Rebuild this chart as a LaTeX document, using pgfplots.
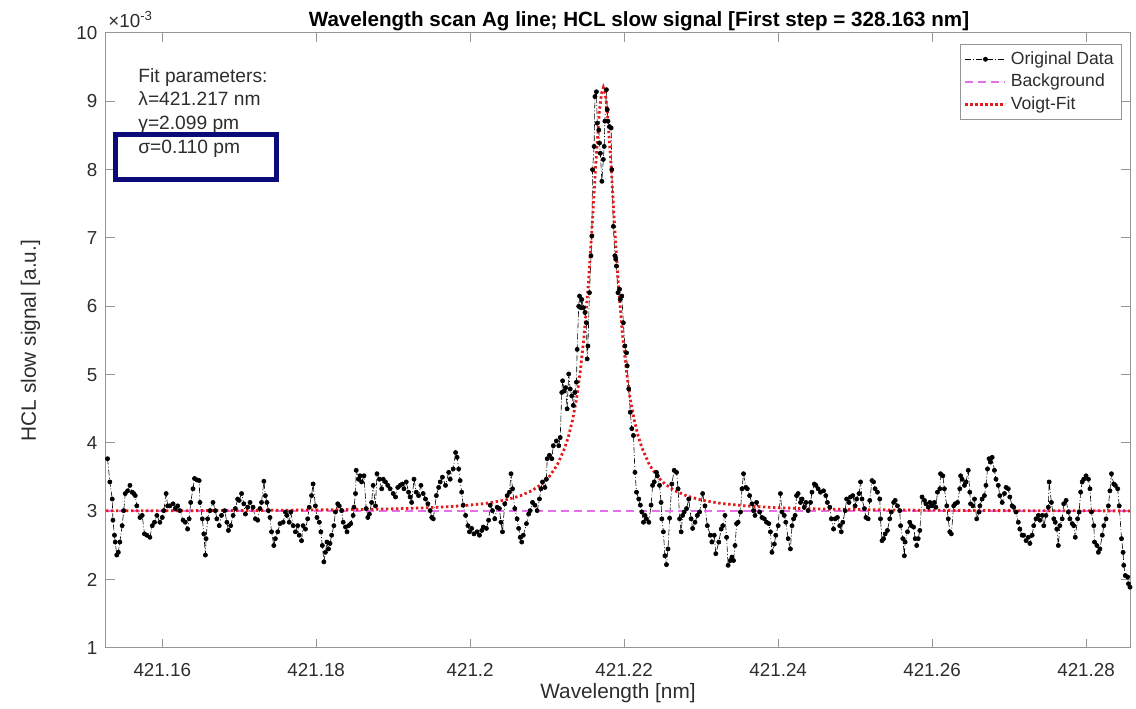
\documentclass[border=0pt]{standalone}
\usepackage{fontspec}
\setmainfont{Liberation Sans}
\usepackage{pgfplots}
\usepackage{pgfplotstable}
\pgfplotsset{compat=1.18}
\usetikzlibrary{calc}

\definecolor{axgray}{RGB}{150,150,150}
\definecolor{txtgray}{RGB}{45,45,45}
\definecolor{bgpink}{RGB}{230,110,235}
\definecolor{fitred}{RGB}{228,26,28}
\definecolor{boxnavy}{RGB}{10,10,120}

% Wavelengths are shifted by 421.15 nm with plain dimension arithmetic
% before pgfplots scales them, so the sub-picometre steps survive.
\newdimen\nmshiftdim
\makeatletter
\pgfplotsset{
  nm shift/.style={
    x coord trafo/.code={%
      \pgfmathfloatparsenumber{##1}%
      \pgfmathfloattofixed{\pgfmathresult}%
      \nmshiftdim=\pgfmathresult pt\relax
      \advance\nmshiftdim by -421.15pt\relax
      \edef\pgfmathresult{\pgf@sys@tonumber\nmshiftdim}%
    },
  },
}
\makeatother

% Measured HCL slow signal (units of 1e-3)
\pgfplotstableread{
x y
421.1529 3.77
421.1532 3.43
421.1535 3.18
421.1536 2.87
421.1538 2.65
421.1539 2.55
421.1541 2.36
421.1543 2.40
421.1545 2.55
421.1548 2.79
421.1550 3.01
421.1552 3.26
421.1555 3.30
421.1558 3.38
421.1561 3.28
421.1563 3.26
421.1565 3.23
421.1567 3.08
421.1571 2.91
421.1574 2.94
421.1577 2.67
421.1580 2.65
421.1584 2.62
421.1587 2.79
421.1590 2.84
421.1593 2.94
421.1597 2.84
421.1600 2.91
421.1602 3.01
421.1605 3.26
421.1607 3.08
421.1610 3.08
421.1614 3.11
421.1617 3.04
421.1620 3.08
421.1623 3.01
421.1627 2.87
421.1630 2.84
421.1633 2.74
421.1635 2.89
421.1637 3.13
421.1640 3.33
421.1642 3.48
421.1645 3.46
421.1648 3.45
421.1649 3.13
421.1652 2.89
421.1654 2.67
421.1656 2.36
421.1657 2.60
421.1659 2.89
421.1662 3.01
421.1666 3.13
421.1669 3.01
421.1671 2.89
421.1674 2.79
421.1677 2.94
421.1681 3.01
421.1684 2.84
421.1686 2.72
421.1689 2.79
421.1692 2.94
421.1695 3.04
421.1698 3.18
421.1700 3.16
421.1703 3.26
421.1706 3.11
421.1708 2.96
421.1711 3.06
421.1714 3.13
421.1718 3.06
421.1721 2.89
421.1724 2.87
421.1727 3.04
421.1729 3.13
421.1732 3.44
421.1734 3.23
421.1736 3.13
421.1738 3.01
421.1740 2.91
421.1742 2.70
421.1745 2.50
421.1747 2.60
421.1750 2.70
421.1753 2.82
421.1757 2.84
421.1760 2.99
421.1762 2.94
421.1765 2.84
421.1767 2.99
421.1770 2.79
421.1773 2.70
421.1776 2.79
421.1778 2.65
421.1781 2.57
421.1783 2.79
421.1786 2.74
421.1789 2.89
421.1791 3.06
421.1794 3.23
421.1796 3.40
421.1799 3.08
421.1801 2.91
421.1804 2.84
421.1806 2.70
421.1808 2.50
421.1810 2.26
421.1812 2.40
421.1814 2.55
421.1816 2.45
421.1818 2.53
421.1820 2.65
421.1823 2.79
421.1825 2.99
421.1828 3.11
421.1830 3.08
421.1833 3.01
421.1835 2.84
421.1838 2.77
421.1840 2.70
421.1842 2.79
421.1845 2.82
421.1848 2.94
421.1849 3.06
421.1851 3.26
421.1852 3.60
421.1855 3.47
421.1857 3.52
421.1859 3.43
421.1862 3.52
421.1865 3.04
421.1867 2.91
421.1869 2.96
421.1872 3.13
421.1874 3.38
421.1877 3.08
421.1879 3.55
421.1882 3.47
421.1885 3.33
421.1887 3.47
421.1890 3.43
421.1893 3.38
421.1896 3.33
421.1900 3.26
421.1903 3.21
421.1906 3.35
421.1909 3.38
421.1912 3.40
421.1914 3.33
421.1917 3.43
421.1920 3.28
421.1922 3.21
421.1924 3.13
421.1927 3.47
421.1930 3.28
421.1933 3.23
421.1936 3.38
421.1939 3.26
421.1942 3.18
421.1945 3.11
421.1948 3.01
421.1950 2.91
421.1952 2.89
421.1956 3.23
421.1959 3.35
421.1961 3.43
421.1964 3.50
421.1968 3.38
421.1972 3.57
421.1974 3.47
421.1978 3.62
421.1981 3.86
421.1983 3.79
421.1985 3.62
421.1987 3.45
421.1989 3.28
421.1991 3.09
421.1994 2.94
421.1997 2.79
421.1999 2.70
421.2002 2.75
421.2005 2.67
421.2009 2.70
421.2012 2.65
421.2015 2.72
421.2017 2.77
421.2021 2.75
421.2024 2.87
421.2026 3.09
421.2029 3.01
421.2032 2.89
421.2035 3.06
421.2038 3.04
421.2040 2.84
421.2042 2.70
421.2045 3.11
421.2048 3.23
421.2051 3.28
421.2053 3.55
421.2055 3.33
421.2058 3.04
421.2061 2.89
421.2063 2.75
421.2065 2.62
421.2067 2.55
421.2069 2.65
421.2073 2.82
421.2076 2.96
421.2078 3.01
421.2081 3.13
421.2084 3.09
421.2087 3.01
421.2090 3.18
421.2092 3.33
421.2094 3.43
421.2097 3.35
421.2099 3.47
421.2100 3.77
421.2103 3.82
421.2106 3.77
421.2108 3.96
421.2112 4.03
421.2115 3.96
421.2117 4.08
421.2119 4.74
421.2120 4.91
421.2122 4.76
421.2124 4.81
421.2126 4.50
421.2128 5.01
421.2130 4.79
421.2132 4.69
421.2134 4.55
421.2136 4.74
421.2138 4.89
421.2139 5.37
421.2141 6.00
421.2142 6.15
421.2144 5.98
421.2145 6.10
421.2147 5.98
421.2149 5.91
421.2151 5.76
421.2152 5.23
421.2153 5.42
421.2155 6.20
421.2157 6.74
421.2158 7.03
421.2159 8.00
421.2161 8.34
421.2162 9.07
421.2164 9.14
421.2165 8.68
421.2167 8.58
421.2168 8.39
421.2169 8.24
421.2171 7.83
421.2173 8.15
421.2174 8.34
421.2175 8.71
421.2177 9.17
421.2178 8.88
421.2179 8.71
421.2181 8.63
421.2183 8.61
421.2184 8.00
421.2186 7.17
421.2188 6.74
421.2189 6.69
421.2190 6.59
421.2192 6.20
421.2194 6.25
421.2195 6.10
421.2197 6.15
421.2199 5.76
421.2201 5.42
421.2203 5.32
421.2204 5.13
421.2206 4.79
421.2208 4.45
421.2210 4.21
421.2212 4.11
421.2214 3.57
421.2216 3.28
421.2219 3.18
421.2221 3.09
421.2223 2.99
421.2225 2.84
421.2227 2.94
421.2229 2.89
421.2232 2.84
421.2235 3.09
421.2237 3.38
421.2239 3.43
421.2242 3.57
421.2243 3.52
421.2246 3.38
421.2248 3.13
421.2249 2.89
421.2251 2.70
421.2253 2.35
421.2255 2.22
421.2257 2.45
421.2259 2.90
421.2262 3.40
421.2265 3.60
421.2268 3.57
421.2270 3.33
421.2272 2.89
421.2274 2.70
421.2276 2.94
421.2278 2.99
421.2281 3.04
421.2284 3.18
421.2287 2.89
421.2289 2.75
421.2292 2.84
421.2295 2.94
421.2298 2.99
421.2302 3.26
421.2305 3.08
421.2308 2.79
421.2312 2.65
421.2314 2.55
421.2317 2.65
421.2319 2.38
421.2323 2.55
421.2326 2.74
421.2328 2.79
421.2331 2.94
421.2333 2.62
421.2335 2.21
421.2338 2.28
421.2340 2.33
421.2342 2.28
421.2344 2.50
421.2346 2.82
421.2348 2.84
421.2351 2.99
421.2353 3.33
421.2355 3.55
421.2358 3.35
421.2360 3.33
421.2363 3.23
421.2366 3.11
421.2368 3.01
421.2370 2.94
421.2372 3.13
421.2376 2.99
421.2379 2.91
421.2382 2.89
421.2385 2.84
421.2388 2.82
421.2390 2.70
421.2392 2.40
421.2395 2.52
421.2397 2.65
421.2400 2.79
421.2403 3.26
421.2405 2.99
421.2408 2.94
421.2410 2.84
421.2413 2.60
421.2416 2.45
421.2418 2.79
421.2420 2.89
421.2422 2.94
421.2424 3.23
421.2426 3.26
421.2429 3.13
421.2431 3.18
421.2434 3.06
421.2436 3.13
421.2439 3.01
421.2442 3.13
421.2444 3.28
421.2447 3.40
421.2449 3.38
421.2452 3.33
421.2455 3.28
421.2459 3.30
421.2462 3.23
421.2464 3.13
421.2467 3.06
421.2469 2.89
421.2472 2.74
421.2474 2.89
421.2477 2.91
421.2480 2.79
421.2482 2.70
421.2484 2.84
421.2487 3.01
421.2489 3.18
421.2492 3.13
421.2494 3.21
421.2497 3.23
421.2500 3.08
421.2502 3.18
421.2505 3.26
421.2507 3.43
421.2509 3.18
421.2512 3.04
421.2514 2.91
421.2517 2.89
421.2519 3.16
421.2522 3.45
421.2524 3.43
421.2526 3.33
421.2529 3.28
421.2532 3.18
421.2533 2.89
421.2535 2.57
421.2537 2.60
421.2539 2.67
421.2542 2.72
421.2545 2.89
421.2547 2.99
421.2550 3.13
421.2552 3.16
421.2555 3.08
421.2558 3.01
421.2559 2.79
421.2562 2.60
421.2564 2.35
421.2565 2.55
421.2568 2.70
421.2571 2.84
421.2573 2.79
421.2576 2.77
421.2578 2.60
421.2580 2.50
421.2582 2.60
421.2584 2.72
421.2587 3.21
421.2590 3.16
421.2592 3.11
421.2595 3.06
421.2597 3.13
421.2600 3.08
421.2603 3.13
421.2605 3.06
421.2607 3.28
421.2610 3.33
421.2611 3.55
421.2614 3.52
421.2616 3.33
421.2619 3.08
421.2621 2.89
421.2623 2.70
421.2625 2.67
421.2628 3.08
421.2630 3.11
421.2633 3.13
421.2636 3.33
421.2637 3.52
421.2639 3.47
421.2642 3.38
421.2644 3.43
421.2647 3.60
421.2649 3.28
421.2650 3.11
421.2653 3.08
421.2655 3.18
421.2658 2.89
421.2661 2.99
421.2662 3.08
421.2665 3.18
421.2668 3.23
421.2670 3.38
421.2672 3.62
421.2674 3.77
421.2676 3.72
421.2678 3.79
421.2681 3.60
421.2683 3.47
421.2686 3.38
421.2688 3.23
421.2691 3.13
421.2694 3.26
421.2696 3.35
421.2699 3.33
421.2701 3.21
421.2704 3.08
421.2706 3.06
421.2709 2.99
421.2712 2.84
421.2714 2.74
421.2717 2.65
421.2719 2.65
421.2722 2.57
421.2725 2.62
421.2727 2.53
421.2730 2.65
421.2732 2.79
421.2735 2.89
421.2738 2.94
421.2740 2.87
421.2743 2.94
421.2745 2.79
421.2748 2.94
421.2751 3.06
421.2752 3.43
421.2755 3.13
421.2758 2.89
421.2760 2.84
421.2762 2.74
421.2764 2.50
421.2766 2.79
421.2769 2.89
421.2771 3.11
421.2774 3.16
421.2777 2.99
421.2779 2.89
421.2782 2.82
421.2784 2.79
421.2786 2.62
421.2789 2.89
421.2791 2.99
421.2793 3.28
421.2795 3.43
421.2797 3.47
421.2800 3.52
421.2803 3.47
421.2805 3.33
421.2807 2.99
421.2810 2.79
421.2811 2.55
421.2814 2.50
421.2816 2.40
421.2818 2.45
421.2821 2.65
421.2823 2.79
421.2826 2.89
421.2829 3.08
421.2831 3.30
421.2833 3.55
421.2836 3.40
421.2838 3.38
421.2841 3.33
421.2843 3.08
421.2846 2.60
421.2848 2.40
421.2849 2.21
421.2851 2.06
421.2854 2.04
421.2855 1.94
421.2857 1.89
}\dataorig

% Fitted background level
\pgfplotstableread{
x y
421.1527 3.0
421.2857 3.0
}\databg

% Voigt profile of the fit, tabulated
\pgfplotstableread{
x y
421.1527 3.007
421.1650 3.010
421.1750 3.015
421.1850 3.026
421.1900 3.036
421.1950 3.054
421.1990 3.081
421.2020 3.115
421.2045 3.163
421.2065 3.226
421.2080 3.301
421.2093 3.400
421.2103 3.512
421.2113 3.677
421.2123 3.930
421.2128 4.109
421.2133 4.340
421.2138 4.641
421.2143 5.039
421.2148 5.565
421.2153 6.251
421.2158 7.106
421.2163 8.054
421.2168 8.867
421.21705 9.113
421.2173 9.200
421.21755 9.113
421.2178 8.867
421.2183 8.054
421.2188 7.106
421.2193 6.251
421.2198 5.565
421.2203 5.039
421.2208 4.641
421.2213 4.340
421.2218 4.109
421.2223 3.930
421.2233 3.677
421.2243 3.512
421.2253 3.400
421.2266 3.301
421.2281 3.226
421.2301 3.163
421.2326 3.115
421.2356 3.081
421.2396 3.054
421.2446 3.036
421.2496 3.026
421.2596 3.015
421.2696 3.010
421.2857 3.006
}\datafit

\begin{document}
\begin{tikzpicture}
\begin{axis}[
  nm shift,
  scale only axis,
  width=512pt, height=307.5pt,
  xmin=421.1527, xmax=421.2857,
  ymin=1, ymax=10,
  xtick={421.16,421.18,421.2,421.22,421.24,421.26,421.28},
  xticklabels={421.16,421.18,421.2,421.22,421.24,421.26,421.28},
  ytick={1,2,3,4,5,6,7,8,9,10},
  /pgf/number format/assume math mode=true,
  tick align=inside,
  major tick length=4.5pt,
  axis line style={draw=axgray, line width=0.5pt},
  tick style={draw=axgray, line width=0.5pt},
  ticklabel style={font=\fontsize{9.4}{11}\selectfont, text=txtgray},
  xticklabel style={yshift=-4.2pt},
  yticklabel style={xshift=-0.8pt},
  legend cell align=left,
  legend image code/.code={%
    \draw[mark repeat=2,mark phase=2,#1]
      plot coordinates {(0pt,0pt) (10pt,0pt) (20pt,0pt)};},
  legend style={
    at={(rel axis cs:1,1)}, anchor=north east,
    xshift=-4pt, yshift=-5.5pt,
    draw=axgray, line width=0.4pt, fill=white,
    font=\fontsize{8.8}{10}\selectfont, text=txtgray,
    row sep=-0.6pt, inner xsep=2pt, inner ysep=1.5pt,
  },
]
  \coordinate (sw) at (rel axis cs:0,0);
  \coordinate (ne) at (rel axis cs:1,1);

  \addplot[black, line width=0.3pt,
           dash pattern=on 3pt off 1pt on 0.5pt off 1pt,
           mark=*, mark size=1.05pt,
           mark options={solid, fill=black, draw=black}]
    table[x=x, y=y] {\dataorig};
  \addlegendentry{Original Data}

  \addplot[draw=bgpink, line width=0.9pt, dash pattern=on 4pt off 2.5pt]
    table[x=x, y=y] {\databg};
  \addlegendentry{Background}

  \addplot[draw=fitred, line width=1.4pt, dash pattern=on 1.2pt off 1.3pt]
    table[x=x, y=y] {\datafit};
  \addlegendentry{Voigt-Fit}

  % fit summary
  \begin{scope}[every node/.style={font=\fontsize{9.6}{11}\selectfont,
                 text=txtgray, anchor=base west, inner sep=0pt}]
    \node at (rel axis cs:0.03125,0.9203) {Fit parameters:};
    \node at (rel axis cs:0.03125,0.8813) {λ=421.217 nm};
    \node at (rel axis cs:0.03125,0.8423) {γ=2.099 pm};
    \node at (rel axis cs:0.03125,0.8033) {σ=0.110 pm};
  \end{scope}
  \draw[boxnavy, line width=2.5pt]
    (rel axis cs:0.00928,0.7618) rectangle (rel axis cs:0.1665,0.8350);
\end{axis}

% exponent, title and axis labels
\node[anchor=base west, inner sep=0pt, text=txtgray,
      font=\fontsize{9.4}{11}\selectfont]
  at ($(sw|-ne)+(1pt,2.6pt)$) {×10\textsuperscript{-3}};
\node[anchor=base, inner sep=0pt, text=black,
      font=\fontsize{10.3}{12}\selectfont\bfseries]
  at ($(sw|-ne)!0.5!(ne)+(10.5pt,3pt)$)
  {Wavelength scan Ag line; HCL slow signal [First step = 328.163 nm]};
\node[anchor=base, inner sep=0pt, text=txtgray,
      font=\fontsize{10.4}{12}\selectfont]
  at ($(sw)!0.5!(sw-|ne)+(0,-25.5pt)$) {Wavelength [nm]};
\node[anchor=base, rotate=90, inner sep=0pt, text=txtgray,
      font=\fontsize{10.4}{12}\selectfont]
  at ($(sw)!0.5!(sw|-ne)+(-35pt,0)$) {HCL slow signal [a.u.]};

\pgfresetboundingbox
\path[use as bounding box] ($(sw)+(-53pt,-30.5pt)$) rectangle ($(ne)+(3pt,16.5pt)$);
\end{tikzpicture}
\end{document}
